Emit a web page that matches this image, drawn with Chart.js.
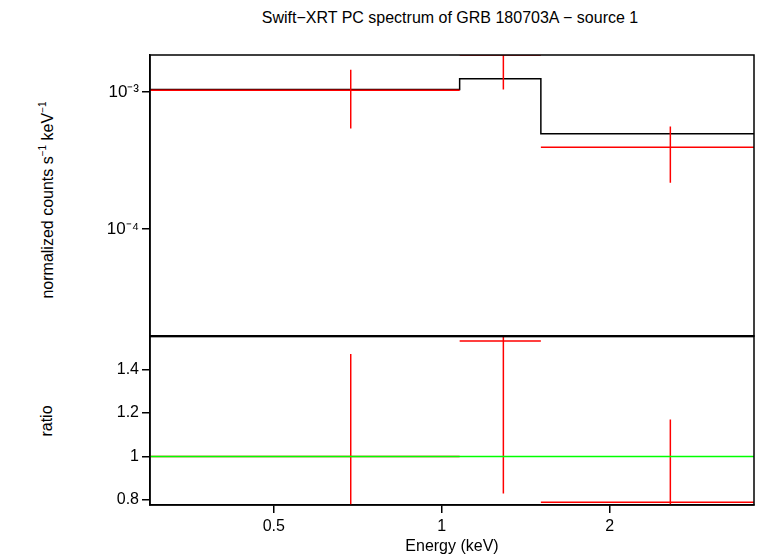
<!DOCTYPE html>
<html><head><meta charset="utf-8">
<script src="https://cdn.jsdelivr.net/npm/chart.js@4/dist/chart.umd.min.js"></script>
<style>
body{margin:0;background:#fff;width:758px;height:556px;position:relative;overflow:hidden;font-family:"Liberation Sans",Arial,sans-serif}
canvas{position:absolute;left:0}
.t{position:absolute;font-size:16px;color:#000;white-space:nowrap}
</style></head><body>
<div class="t" style="left:0;width:900px;text-align:center;top:9px">Swift−XRT PC spectrum of GRB 180703A − source 1</div>
<div class="t" style="left:47px;top:200px;transform:translate(-50%,-50%) rotate(-90deg)">normalized counts s<sup style="font-size:10px">−1</sup> keV<sup style="font-size:10px">−1</sup></div>
<div class="t" style="left:47px;top:421px;transform:translate(-50%,-50%) rotate(-90deg)">ratio</div>
<canvas id="c2" width="758" height="232" style="top:324px"></canvas>
<canvas id="c1" width="758" height="349" style="top:0"></canvas>
<script>
// model bins
const modelEdges=[0.3,1.077,1.506,3.63];
const modelVals=[1.04e-3,1.25e-3,4.95e-4];
// data points
const dataX=[0.687,1.29,2.57];
const dataXlo=[0.3,1.077,1.506];
const dataXhi=[1.077,1.506,3.63];
const dataY=[1.03e-3,1.86e-3,3.95e-4];
const dataYlo=[0.54e-3,1.04e-3,0.217e-3];
const dataYhi=[1.45e-3,2.5e-3,0.56e-3];
const ratioY=[1.0,1.53,0.79];
const ratioLo=[0.6,0.83,0.5];
const ratioHi=[1.47,1.9,1.17];
const xTicks=[0.5,1,2];
const ratioTicks=[0.8,1,1.2,1.4];

const XMIN=0.3,XMAX=3.63;
function steps(){const p=[];modelVals.forEach((v,i)=>{p.push({x:modelEdges[i],y:v});p.push({x:modelEdges[i+1],y:v});});return p;}
function errs(y,lo,hi){const p=[];for(let i=0;i<dataX.length;i++){p.push({x:dataXlo[i],y:y[i]},{x:dataXhi[i],y:y[i]},{x:NaN,y:null},{x:dataX[i],y:lo[i]},{x:dataX[i],y:hi[i]},{x:NaN,y:null});}return p;}
const frame={id:'frame',afterDraw(c){const a=c.chartArea,x=c.ctx;x.save();x.strokeStyle='#000';x.lineWidth=1.5;x.strokeRect(a.left,a.top,a.right-a.left,a.bottom-a.top);x.restore();}};
const font={family:'"Liberation Sans",Arial,sans-serif',size:16};
function xScale(show){return {type:'logarithmic',min:XMIN,max:XMAX,display:true,
 afterBuildTicks:s=>{s.ticks=xTicks.map(v=>({value:v}));},
 afterFit:s=>{s.height=show?51:0;},
 ticks:{display:show,color:'#000',font:font,maxRotation:0,padding:4,callback:v=>String(v)},
 grid:{drawOnChartArea:false,color:'#000',tickLength:show?8:0,lineWidth:1.5},border:{color:'#000',width:1.5},
 title:{display:show,text:'Energy (keV)',color:'#000',font:font,padding:0}};}
const lineOpt={showLine:true,pointRadius:0,spanGaps:false,borderWidth:1.5,fill:false};
new Chart(document.getElementById('c1'),{type:'scatter',
 data:{datasets:[
  {...lineOpt,data:errs(dataY,dataYlo,dataYhi),borderColor:'#f00'},
  {...lineOpt,data:steps(),borderColor:'#000'}]},
 options:{responsive:false,animation:false,layout:{padding:{top:55,right:4,left:0,bottom:0}},
  plugins:{legend:{display:false},tooltip:{enabled:false}},
  scales:{x:xScale(false),
   y:{type:'logarithmic',min:1.66e-5,max:1.86e-3,afterFit:s=>{s.width=150;},
    afterBuildTicks:s=>{s.ticks=[{value:1e-4},{value:1e-3}];},
    ticks:{color:'#000',font:{...font,size:17},callback:v=>v===1e-3?'10⁻³':'10⁻⁴'},
    grid:{drawOnChartArea:false,color:'#000',tickLength:8,lineWidth:1.5},border:{color:'#000',width:1.5}}}},
 plugins:[frame]});
new Chart(document.getElementById('c2'),{type:'scatter',
 data:{datasets:[
  {...lineOpt,data:[{x:XMIN,y:1},{x:XMAX,y:1}],borderColor:'#0f0'},
  {...lineOpt,data:errs(ratioY,ratioLo,ratioHi),borderColor:'#f00'}]},
 options:{responsive:false,animation:false,layout:{padding:{top:0,right:4,left:0,bottom:0}},
  plugins:{legend:{display:false},tooltip:{enabled:false}},
  scales:{x:xScale(true),
   y:{min:0.777,max:1.55,afterFit:s=>{s.width=150;},
    afterBuildTicks:s=>{s.ticks=ratioTicks.map(v=>({value:v}));},
    ticks:{color:'#000',font:font,callback:v=>String(Math.round(v*10)/10)},
    grid:{drawOnChartArea:false,color:'#000',tickLength:8,lineWidth:1.5},border:{color:'#000',width:1.5}}}},
 plugins:[frame]});
</script></body></html>
